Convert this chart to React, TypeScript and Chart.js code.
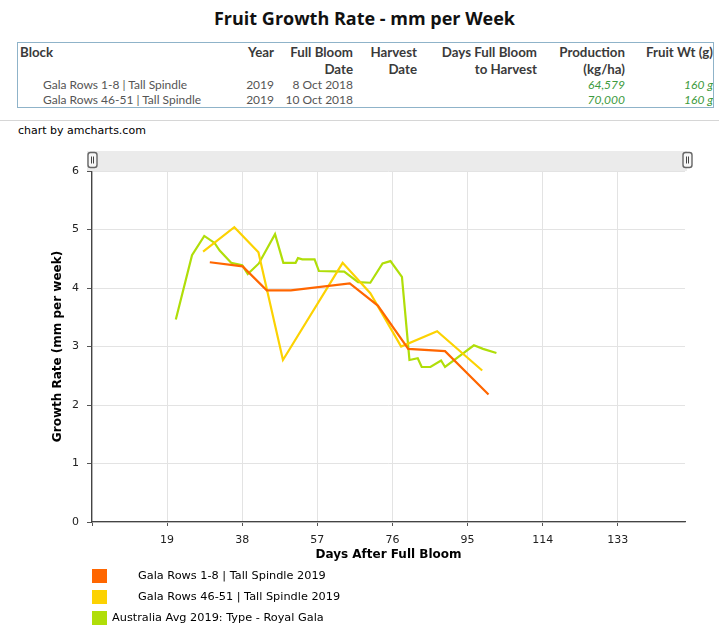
import React, { useEffect, useRef } from 'react';
import { Chart, registerables } from 'chart.js';

Chart.register(...registerables);

// ---------- DATA ----------
const chartTitle = 'Fruit Growth Rate - mm per Week';

const tableHeaders: [string, string][] = [
  ['Block', ''],
  ['Year', ''],
  ['Full Bloom', 'Date'],
  ['Harvest', 'Date'],
  ['Days Full Bloom', 'to Harvest'],
  ['Production', '(kg/ha)'],
  ['Fruit Wt (g)', ''],
];
const tableRowBlocks = ['Gala Rows 1-8 | Tall Spindle', 'Gala Rows 46-51 | Tall Spindle'];
const tableRowYears = ['2019', '2019'];
const tableRowBloomDates = ['8 Oct 2018', '10 Oct 2018'];
const tableRowHarvestDates = ['', ''];
const tableRowDays = ['', ''];
const tableRowProduction = ['64,579', '70,000'];
const tableRowFruitWt = ['160 g', '160 g'];

const seriesNames = [
  'Gala Rows 1-8 | Tall Spindle 2019',
  'Gala Rows 46-51 | Tall Spindle 2019',
  'Australia Avg 2019: Type - Royal Gala',
];
const seriesColors = ['#FF6600', '#FCD202', '#B0DE09'];

const orangeDays = [29.8, 38.1, 44.2, 50.3, 65.2, 72.3, 80.0, 89.3, 100.3];
const orangeRates = [4.44, 4.37, 3.96, 3.96, 4.08, 3.7, 2.96, 2.92, 2.18];

const yellowDays = [28.1, 36.0, 42.1, 48.3, 63.4, 70.4, 78.2, 87.3, 98.7];
const yellowRates = [4.62, 5.04, 4.61, 2.77, 4.43, 3.91, 3.0, 3.26, 2.59];

const greenDays = [
  21.2, 25.3, 28.4, 31.0, 32.3, 35.2, 38.0, 39.4, 42.2, 46.3, 48.4, 51.5, 52.1, 53.2, 56.3, 57.4,
  63.8, 67.3, 70.4, 73.5, 75.5, 78.4, 80.3, 82.4, 83.4, 85.6, 88.3, 89.3, 96.6, 98.9, 102.3,
];
const greenRates = [
  3.46, 4.56, 4.89, 4.77, 4.64, 4.43, 4.39, 4.24, 4.42, 4.92, 4.43, 4.43, 4.51, 4.49, 4.49, 4.29,
  4.28, 4.1, 4.09, 4.42, 4.46, 4.19, 2.77, 2.8, 2.65, 2.65, 2.76, 2.65, 3.02, 2.96, 2.89,
];

const xAxisTitle = 'Days After Full Bloom';
const yAxisTitle = 'Growth Rate (mm per week)';
const xStep = 19;
const xMax = 150;
const yMax = 6;

// ---------- LAYOUT ----------
const W = 719;
const CANVAS_TOP = 140;
const CANVAS_H = 430;
const axisFont = 'DejaVu Sans';

const scrollbarPlugin = {
  id: 'scrollbarDeco',
  afterDraw(chart: any) {
    const { ctx, chartArea } = chart;
    const top = chartArea.top - 20;
    ctx.save();
    ctx.fillStyle = '#ebebeb';
    ctx.fillRect(chartArea.left - 5, top, chartArea.right - chartArea.left + 7, 20);
    const handle = (x: number, y: number) => {
      const w = 9, h = 15, r = 2.5;
      ctx.beginPath();
      ctx.moveTo(x + r, y);
      ctx.lineTo(x + w - r, y);
      ctx.quadraticCurveTo(x + w, y, x + w, y + r);
      ctx.lineTo(x + w, y + h - r);
      ctx.quadraticCurveTo(x + w, y + h, x + w - r, y + h);
      ctx.lineTo(x + r, y + h);
      ctx.quadraticCurveTo(x, y + h, x, y + h - r);
      ctx.lineTo(x, y + r);
      ctx.quadraticCurveTo(x, y, x + r, y);
      ctx.closePath();
      ctx.fillStyle = '#f7f7f7';
      ctx.fill();
      ctx.strokeStyle = '#666';
      ctx.lineWidth = 1.4;
      ctx.stroke();
      ctx.beginPath();
      ctx.strokeStyle = '#444';
      ctx.lineWidth = 1;
      ctx.moveTo(x + 3.5, y + 4);
      ctx.lineTo(x + 3.5, y + 11);
      ctx.moveTo(x + 5.5, y + 4);
      ctx.lineTo(x + 5.5, y + 11);
      ctx.stroke();
    };
    handle(chartArea.left - 4, top + 1.5);
    handle(chartArea.right - 2, top + 1.5);
    ctx.restore();
  },
};

function Txt(props: { x: number; y: number; align?: 'left' | 'right'; style?: any; children?: any }) {
  const { x, y, align = 'left', style, children } = props;
  const lh = 18;
  const base: any = {
    position: 'absolute',
    top: y - lh / 2,
    lineHeight: lh + 'px',
    height: lh,
    whiteSpace: 'nowrap',
  };
  if (align === 'right') {
    base.left = x - 400;
    base.width = 400;
    base.textAlign = 'right';
  } else {
    base.left = x;
  }
  return <div style={{ ...base, ...style }}>{children}</div>;
}

export default function App() {
  const canvasRef = useRef<HTMLCanvasElement | null>(null);

  useEffect(() => {
    if (!canvasRef.current) return;
    const mk = (days: number[], rates: number[]) => days.map((d, i) => ({ x: d, y: rates[i] }));
    const chart = new Chart(canvasRef.current, {
      type: 'line',
      data: {
        datasets: [
          { label: seriesNames[0], data: mk(orangeDays, orangeRates), borderColor: seriesColors[0], backgroundColor: seriesColors[0] },
          { label: seriesNames[1], data: mk(yellowDays, yellowRates), borderColor: seriesColors[1], backgroundColor: seriesColors[1] },
          { label: seriesNames[2], data: mk(greenDays, greenRates), borderColor: seriesColors[2], backgroundColor: seriesColors[2] },
        ],
      },
      options: {
        responsive: false,
        animation: false,
        events: [],
        layout: { padding: { top: 31, right: 34, left: 0, bottom: 0 } },
        elements: {
          line: { borderWidth: 2.2, tension: 0 },
          point: { radius: 0 },
        },
        plugins: {
          legend: { display: false },
          tooltip: { enabled: false },
          title: { display: false },
        },
        scales: {
          x: {
            type: 'linear',
            min: 0,
            max: xMax,
            afterFit: (s: any) => {
              s.height = 48;
            },
            ticks: {
              stepSize: xStep,
              includeBounds: false,
              padding: 8,
              color: '#222',
              font: { family: axisFont, size: 11 },
              maxRotation: 0,
              callback: (v: any) => (Number(v) === 0 ? '' : String(v)),
            },
            grid: { color: '#e3e3e3', tickColor: '#555', tickLength: 4, lineWidth: 1 },
            border: { display: true, color: '#444', width: 1.3 },
            title: {
              display: true,
              text: xAxisTitle,
              color: '#000',
              font: { family: axisFont, size: 12, weight: 'bold' },
              padding: { top: 0, bottom: 8 },
            },
          },
          y: {
            type: 'linear',
            min: 0,
            max: yMax,
            afterFit: (s: any) => {
              s.width = 92;
            },
            ticks: {
              stepSize: 1,
              padding: 8,
              color: '#222',
              font: { family: axisFont, size: 11 },
            },
            grid: { color: '#e3e3e3', tickColor: '#555', tickLength: 5, lineWidth: 1 },
            border: { display: true, color: '#444', width: 1.3 },
            title: {
              display: true,
              text: yAxisTitle,
              color: '#000',
              font: { family: axisFont, size: 12, weight: 'bold' },
              padding: { top: 51, bottom: 0 },
            },
          },
        },
      } as any,
      plugins: [scrollbarPlugin],
    });
    return () => chart.destroy();
  }, []);

  const headerFont: any = { fontFamily: 'Lato', fontWeight: 'bold', fontSize: 13.3, color: '#3a3a3a' };
  const rowFont: any = { fontFamily: 'Lato', fontSize: 12, color: '#555' };
  const greenFont: any = { fontFamily: 'Lato', fontSize: 12, color: '#3d9a3d', fontStyle: 'italic' };
  const colRight = [0, 274, 353, 417, 537, 625, 713];
  const rowCols = [tableRowYears, tableRowBloomDates, tableRowHarvestDates, tableRowDays, tableRowProduction, tableRowFruitWt];

  return (
    <div style={{ position: 'absolute', left: 0, top: 0, width: W, height: 625, overflow: 'hidden', background: '#fff' }}>
      <div
        style={{
          position: 'absolute',
          left: 5,
          top: 6,
          width: W,
          textAlign: 'center',
          fontFamily: 'Open Sans',
          fontWeight: 'bold',
          fontSize: 18,
          color: '#111',
          lineHeight: '25px',
        }}
      >
        {chartTitle}
      </div>

      <div
        style={{
          position: 'absolute',
          left: 17,
          top: 42,
          width: 695,
          height: 64,
          border: '1px solid #8fb3c9',
          overflow: 'hidden',
        }}
      >
        <div style={{ position: 'absolute', left: -18, top: -43, width: W, height: 130 }}>
          <Txt x={20} y={52} style={headerFont}>{tableHeaders[0][0]}</Txt>
          {tableHeaders.slice(1).map((h, i) => (
            <React.Fragment key={i}>
              <Txt x={colRight[i + 1]} y={52} align="right" style={headerFont}>{h[0]}</Txt>
              {h[1] ? (
                <Txt x={colRight[i + 1]} y={69} align="right" style={headerFont}>{h[1]}</Txt>
              ) : null}
            </React.Fragment>
          ))}
          {tableRowBlocks.map((b, r) => (
            <React.Fragment key={r}>
              <Txt x={43} y={85 + r * 15} style={rowFont}>{b}</Txt>
              {rowCols.map((col, c) => (
                <Txt key={c} x={colRight[c + 1]} y={85 + r * 15} align="right" style={c >= 4 ? greenFont : rowFont}>
                  {col[r]}
                </Txt>
              ))}
            </React.Fragment>
          ))}
        </div>
      </div>

      <div style={{ position: 'absolute', left: 0, top: 120, width: W, height: 1, background: '#d6d6d6' }} />
      <Txt x={18} y={131} style={{ fontFamily: axisFont, fontSize: 11, color: '#000' }}>chart by amcharts.com</Txt>

      <canvas
        ref={canvasRef}
        width={W}
        height={CANVAS_H}
        style={{ position: 'absolute', left: 0, top: CANVAS_TOP, width: W, height: CANVAS_H }}
      />

      {seriesNames.map((n, i) => (
        <React.Fragment key={i}>
          <div
            style={{
              position: 'absolute',
              left: 92,
              top: 569 + i * 21,
              width: 15,
              height: 14,
              background: seriesColors[i],
            }}
          />
          <Txt
            x={i < 2 ? 138 : 112}
            y={576 + i * 21}
            style={{ fontFamily: axisFont, fontSize: 11.3, color: '#000' }}
          >
            {n}
          </Txt>
        </React.Fragment>
      ))}
    </div>
  );
}
